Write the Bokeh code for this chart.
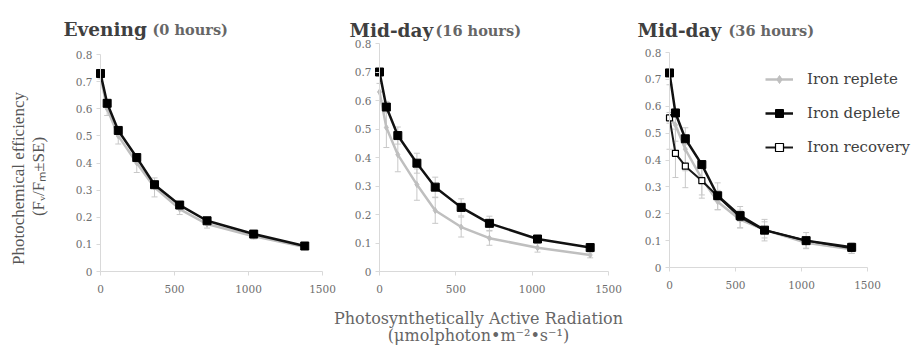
import math
from bokeh.plotting import figure
from bokeh.models import (ColumnDataSource, Whisker, TeeHead, Label, Legend,
                          LegendItem, FixedTicker, Range1d, LinearAxis)
from bokeh.embed import file_html
from bokeh.resources import INLINE

# ---------------- data ----------------
par = [0, 45, 120, 245, 365, 535, 720, 1035, 1380]

eve_replete = [0.72, 0.60, 0.50, 0.40, 0.31, 0.23, 0.175, 0.13, 0.09]
eve_replete_se = [0.01, 0.025, 0.03, 0.035, 0.035, 0.02, 0.015, 0.01, 0.008]
eve_deplete = [0.73, 0.62, 0.52, 0.42, 0.32, 0.245, 0.187, 0.138, 0.094]
eve_deplete_se = [0.005, 0.01, 0.01, 0.01, 0.01, 0.008, 0.006, 0.005, 0.004]

md16_replete = [0.63, 0.505, 0.41, 0.305, 0.214, 0.156, 0.117, 0.083, 0.058]
md16_replete_se = [0.03, 0.07, 0.06, 0.055, 0.045, 0.035, 0.025, 0.015, 0.01]
md16_deplete = [0.70, 0.577, 0.477, 0.38, 0.296, 0.225, 0.169, 0.114, 0.084]
md16_deplete_se = [0.01, 0.02, 0.03, 0.035, 0.035, 0.03, 0.025, 0.01, 0.01]

md36_replete = [0.56, 0.53, 0.44, 0.33, 0.245, 0.178, 0.14, 0.092, 0.068]
md36_replete_se = [0.12, 0.06, 0.08, 0.06, 0.03, 0.03, 0.03, 0.02, 0.015]
md36_deplete = [0.724, 0.575, 0.479, 0.383, 0.267, 0.193, 0.139, 0.10, 0.075]
md36_deplete_se = [0.01, 0.01, 0.01, 0.01, 0.02, 0.02, 0.01, 0.01, 0.01]
md36_recovery = [0.557, 0.425, 0.377, 0.323, 0.265, 0.187, 0.139, 0.10, 0.072]
md36_recovery_se = [0.02, 0.09, 0.08, 0.065, 0.05, 0.04, 0.04, 0.03, 0.02]

x_ticks = [0, 500, 1000, 1500]
y_ticks = [0, 0.1, 0.2, 0.3, 0.4, 0.5, 0.6, 0.7, 0.8]
y_tick_labels = ["0", "0.1", "0.2", "0.3", "0.4", "0.5", "0.6", "0.7", "0.8"]

titles = [("Evening", "(0 hours)"), ("Mid-day", "(16 hours)"), ("Mid-day", "(36 hours)")]
series_names = ["Iron replete", "Iron deplete", "Iron recovery"]
y_label_lines = ["Photochemical efficiency", "(F\u1d65/F\u2098\u00b1SE)"]
x_label_lines = ["Photosynthetically Active Radiation",
                 "(\u03bcmolphoton\u2022m\u207b\u00b2\u2022s\u207b\u00b9)"]

# ---------------- layout (canvas pixels) ----------------
W, H = 916, 345
# per panel: pixel of x=0, x=1500, y=0, y=0.8
panel_px = [
    (100, 322, 271, 54),
    (379, 608, 271, 43),
    (669, 867, 267, 52),
]

GRAY = "#bfbfbf"
ERR = "#c8c8c8"
AXIS = "#d9d9d9"
TICKTXT = "#6e6e6e"
SERIF = "DejaVu Serif"

# canvas-pixel default ranges (y grows downward)
p = figure(width=W, height=H, x_range=Range1d(0, W), y_range=Range1d(H, 0),
           x_axis_location=None, y_axis_location=None,
           output_backend="svg", toolbar_location=None,
           min_border_left=0, min_border_right=0, min_border_top=0, min_border_bottom=0)
p.outline_line_color = None
p.grid.visible = False


def panel_ranges(i):
    a, b, y0, y8 = panel_px[i]
    upp = 1500.0 / (b - a)
    xs = -a * upp
    xr = Range1d(xs, xs + W * upp)
    vpp = 0.8 / (y0 - y8)
    yr = Range1d(-(H - y0) * vpp, y0 * vpp)
    return xr, yr


for i in range(3):
    xr, yr = panel_ranges(i)
    p.extra_x_ranges[f"x{i}"] = xr
    p.extra_y_ranges[f"y{i}"] = yr
    xa = LinearAxis(x_range_name=f"x{i}", y_range_name=f"y{i}", fixed_location=0,
                    bounds=(0, 1500), ticker=FixedTicker(ticks=x_ticks))
    ya = LinearAxis(x_range_name=f"x{i}", y_range_name=f"y{i}", fixed_location=0,
                    bounds=(0, 0.8), ticker=FixedTicker(ticks=y_ticks))
    ya.major_label_overrides = {t: l for t, l in zip(y_ticks, y_tick_labels)}
    for ax in (xa, ya):
        ax.axis_line_color = AXIS
        ax.major_tick_line_color = AXIS
        ax.major_tick_out = 4
        ax.major_tick_in = 0
        ax.minor_tick_line_color = None
        ax.major_label_text_font = SERIF
        ax.major_label_text_font_size = "10.5px"
        ax.major_label_text_color = TICKTXT
        ax.major_label_standoff = 4
    xa.major_label_standoff = 9
    p.add_layout(xa, "below")
    p.add_layout(ya, "left")


def add_series(i, y, se, kind):
    src = ColumnDataSource(dict(x=par, y=y,
                                lo=[a - b for a, b in zip(y, se)],
                                hi=[a + b for a, b in zip(y, se)]))
    kw = dict(x_range_name=f"x{i}", y_range_name=f"y{i}")
    p.add_layout(Whisker(source=src, base="x", lower="lo", upper="hi",
                         line_color=ERR, line_width=1,
                         lower_head=TeeHead(size=6, line_color=ERR, line_width=1),
                         upper_head=TeeHead(size=6, line_color=ERR, line_width=1), **kw))
    if kind == "replete":
        l = p.line("x", "y", source=src, line_color=GRAY, line_width=2.5, **kw)
        s = p.scatter("x", "y", source=src, marker="diamond", size=6,
                      fill_color=GRAY, line_color=GRAY, **kw)
    elif kind == "deplete":
        l = p.line("x", "y", source=src, line_color="#111111", line_width=2.5, **kw)
        s = p.scatter("x", "y", source=src, marker="square", size=8,
                      fill_color="black", line_color="black", **kw)
    else:
        l = p.line("x", "y", source=src, line_color="#1a1a1a", line_width=2, **kw)
        s = p.scatter("x", "y", source=src, marker="square", size=6,
                      fill_color="white", line_color="black", line_width=1.2, **kw)
    return [l, s]


add_series(0, eve_replete, eve_replete_se, "replete")
add_series(0, eve_deplete, eve_deplete_se, "deplete")
add_series(1, md16_replete, md16_replete_se, "replete")
add_series(1, md16_deplete, md16_deplete_se, "deplete")
r_rep = add_series(2, md36_replete, md36_replete_se, "replete")
r_rec = add_series(2, md36_recovery, md36_recovery_se, "recovery")
r_dep = add_series(2, md36_deplete, md36_deplete_se, "deplete")


def label(px, py, text, **style):
    p.add_layout(Label(x=px, y=py, text=text, **style))


title_pos = [(63, 152, 29), (349, 435, 30), (637, 728, 30)]
for (t_main, t_sub), (xm, xs, base) in zip(titles, title_pos):
    label(xm, base, t_main, text_font=SERIF, text_font_style="bold",
          text_font_size="18.5px", text_color="#3f3f3f",
          text_align="left", text_baseline="alphabetic")
    label(xs, base, t_sub, text_font=SERIF, text_font_style="bold",
          text_font_size="14.5px", text_color="#666666",
          text_align="left", text_baseline="alphabetic")

for txt, (px, py) in zip(y_label_lines, [(18, 178), (38, 176)]):
    label(px, py, txt, angle=math.pi / 2, text_font="Liberation Serif",
          text_font_size="17px", text_color="#555555",
          text_align="center", text_baseline="middle")

for txt, (px, py) in zip(x_label_lines, [(478, 318), (478, 335)]):
    label(px, py, txt, text_font=SERIF, text_font_size="16px",
          text_color="#666666", text_align="center", text_baseline="middle")

legend = Legend(items=[LegendItem(label=series_names[0], renderers=r_rep),
                       LegendItem(label=series_names[1], renderers=r_dep),
                       LegendItem(label=series_names[2], renderers=r_rec)],
                location=(765, H - 157), padding=0, margin=0,
                border_line_color=None, background_fill_alpha=0,
                glyph_width=28, glyph_height=20, label_height=20, spacing=14,
                label_standoff=14, label_text_font=SERIF,
                label_text_font_size="15px", label_text_color="#404040")
p.add_layout(legend)

open("out.html", "w").write(file_html(p, INLINE))
